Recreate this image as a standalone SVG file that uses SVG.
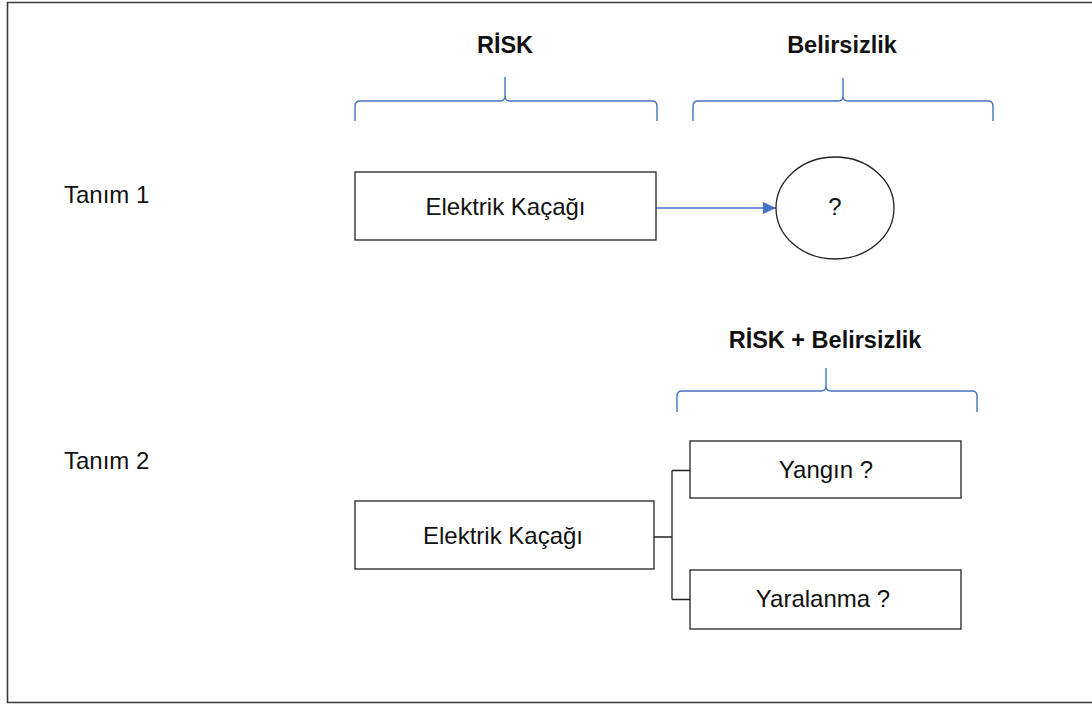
<svg xmlns="http://www.w3.org/2000/svg" width="1092" height="704" viewBox="0 0 1092 704">
<style>
.frame{fill:none;stroke:#3a3a3a;stroke-width:1.6}
.box{fill:#fff;stroke:#222;stroke-width:1.3}
.brace{fill:none;stroke:#4472C4;stroke-width:1.4}
.conn{fill:none;stroke:#222;stroke-width:1.3}
.arrow{fill:none;stroke:#4472C4;stroke-width:1.5}
.t{font-family:"Liberation Sans",Arial,sans-serif;font-size:24px;fill:#111}
.h{font-family:"Liberation Sans",Arial,sans-serif;font-size:23.5px;font-weight:bold;fill:#111}
</style>
<defs>
<marker id="ah" markerWidth="13" markerHeight="12" refX="13" refY="6" orient="auto" markerUnits="userSpaceOnUse">
<path d="M0,0 L13,6 L0,12 z" fill="#4472C4"/>
</marker>
</defs>
<rect width="1092" height="704" fill="#fff"/>
<path class="frame" d="M1100,2.5 L7.5,2.5 L7.5,702.5 L1100,702.5"/>

<g id="labels">
<text class="t" x="64" y="203">Tanım 1</text>
<text class="t" x="64" y="469">Tanım 2</text>
</g>

<g id="brace-risk">
<path class="brace" d="M355,121 L355,106 Q355,101 360,101 L500,101 Q505,101 505,96 L505,77 M505,96 Q505,101 510,101 L652,101 Q657,101 657,106 L657,121"/>
<text class="h" x="505" y="53" text-anchor="middle">RİSK</text>
</g>

<g id="brace-belirsizlik">
<path class="brace" d="M693,121 L693,106 Q693,101 698,101 L838,101 Q843,101 843,96 L843,78 M843,96 Q843,101 848,101 L988,101 Q993,101 993,106 L993,121"/>
<text class="h" x="842" y="53" text-anchor="middle">Belirsizlik</text>
</g>

<g id="brace-both">
<path class="brace" d="M677,412 L677,396 Q677,391 682,391 L821,391 Q826,391 826,386 L826,368 M826,386 Q826,391 831,391 L972,391 Q977,391 977,396 L977,412"/>
<text class="h" x="825" y="348" text-anchor="middle">RİSK + Belirsizlik</text>
</g>

<g id="connectors">
<line class="arrow" x1="656" y1="208" x2="776" y2="208" marker-end="url(#ah)"/>
<path class="conn" d="M654,537 L672,537 M672,470.5 L672,599.5 M672,470.5 L690,470.5 M672,599.5 L690,599.5"/>
</g>

<g id="node-elektrik1">
<rect class="box" x="355" y="172" width="301" height="68"/>
<text class="t" x="505.5" y="215" text-anchor="middle">Elektrik Kaçağı</text>
</g>

<g id="node-question">
<ellipse class="box" cx="835" cy="208" rx="59" ry="51"/>
<text class="t" x="835" y="215" text-anchor="middle">?</text>
</g>

<g id="node-elektrik2">
<rect class="box" x="355" y="501" width="299" height="68"/>
<text class="t" x="503" y="544" text-anchor="middle">Elektrik Kaçağı</text>
</g>

<g id="node-yangin">
<rect class="box" x="690" y="441" width="271" height="57"/>
<text class="t" x="826" y="478" text-anchor="middle">Yangın ?</text>
</g>

<g id="node-yaralanma">
<rect class="box" x="690" y="570" width="271" height="59"/>
<text class="t" x="823" y="607" text-anchor="middle">Yaralanma ?</text>
</g>
</svg>
